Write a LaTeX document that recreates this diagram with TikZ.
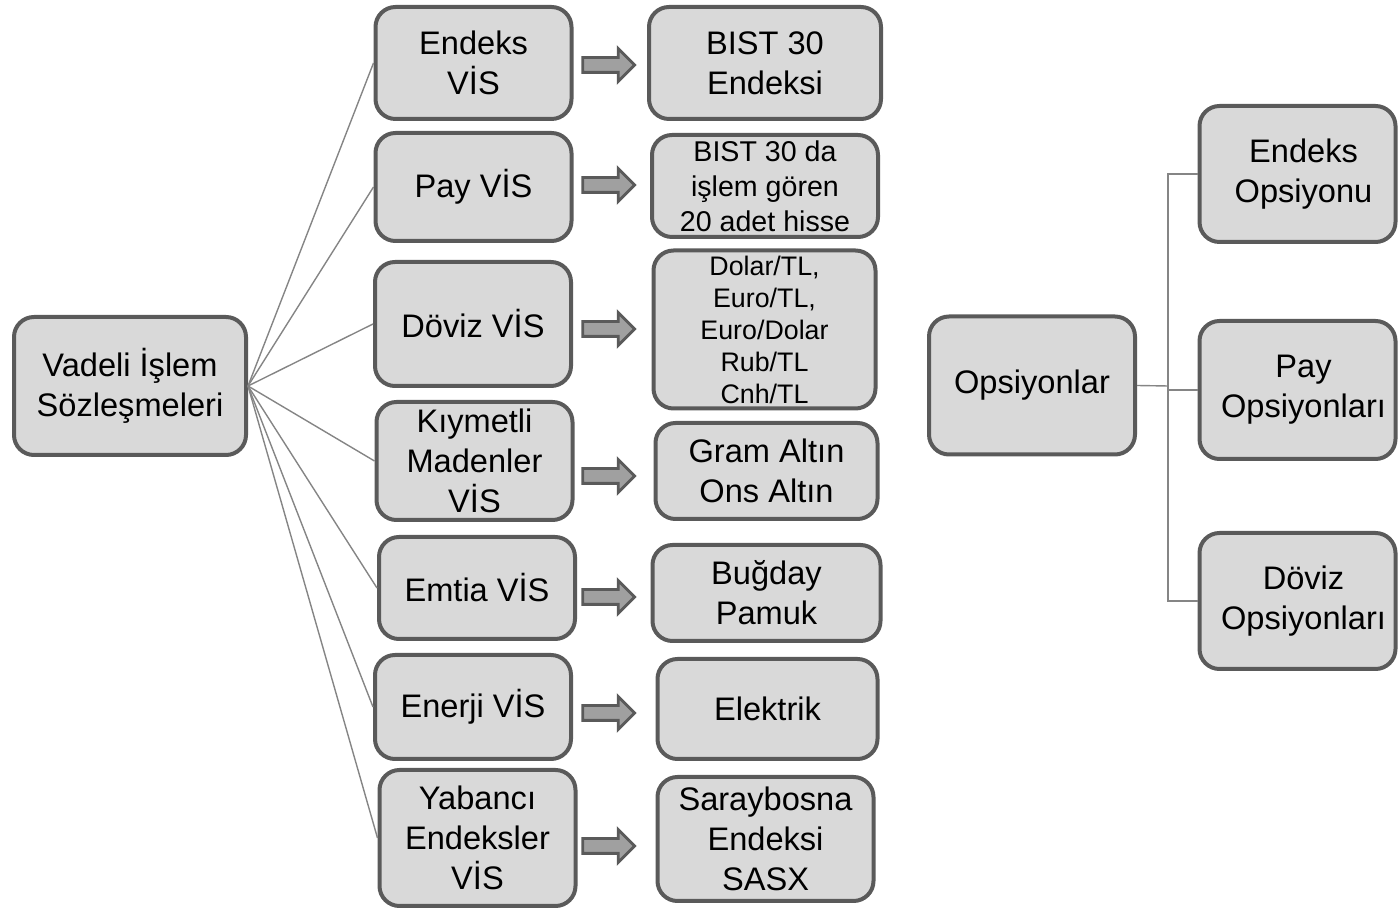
\documentclass[tikz,border=0pt]{standalone}
\usepackage{fontspec}
\setmainfont{Liberation Sans}
\usetikzlibrary{shapes.arrows}
\definecolor{boxfill}{HTML}{D9D9D9}
\definecolor{boxline}{HTML}{5A5A5A}
\definecolor{linkgray}{HTML}{858585}
\definecolor{arrowfill}{HTML}{A0A0A0}
\newcommand{\bigtext}{\fontsize{16.3}{20}\selectfont}
\newcommand{\midtext}{\fontsize{14.3}{17.5}\selectfont}
\newcommand{\smalltext}{\fontsize{13.4}{16}\selectfont}
\tikzset{
    box/.style={rectangle,rounded corners=10pt,draw=boxline,fill=boxfill,line width=2pt,
        align=center,inner sep=0pt,font=\bigtext},
    link/.style={draw=linkgray,line width=0.7pt},
    blockarrow/.style={single arrow,draw=boxline,fill=arrowfill,line width=1.4pt,
        inner sep=0pt,inner ysep=3pt,minimum height=26pt,
        single arrow head extend=4.5pt,single arrow tip angle=90}
}

\begin{document}
\begin{tikzpicture}[x=0.5pt,y=-0.5pt]
    \useasboundingbox (0,0) rectangle (1398,913);

    % Vadeli islem
    \node[box,minimum width=116pt,minimum height=69pt] (V) at (130,386) {Vadeli İşlem\\Sözleşmeleri};

    \node[box,minimum width=98pt,minimum height=56pt] (m1) at (473.5,63) {Endeks\\VİS};
    \node[box,minimum width=98pt,minimum height=54pt] (m2) at (473.5,187) {Pay VİS};
    \node[box,minimum width=98pt,minimum height=62pt] (m3) at (473,324) {Döviz VİS};
    \node[box,minimum width=98pt,minimum height=59pt] (m4) at (474.5,461) {Kıymetli\\Madenler\\VİS};
    \node[box,minimum width=98pt,minimum height=51pt] (m5) at (477,588) {Emtia VİS};
    \node[box,minimum width=98pt,minimum height=52pt] (m6) at (473,707) {Enerji VİS};
    \node[box,minimum width=98pt,minimum height=68pt] (m7) at (477.5,838) {Yabancı\\Endeksler\\VİS};

    \node[box,minimum width=116pt,minimum height=56pt] (r1) at (765,63) {BIST 30\\Endeksi};
    \node[box,minimum width=113pt,minimum height=51pt,font=\midtext] (r2) at (765,186) {BIST 30 da\\işlem gören\\20 adet hisse};
    \node[box,minimum width=111pt,minimum height=79pt,font=\smalltext] (r3) at (764.5,329.5) {Dolar/TL,\\Euro/TL,\\Euro/Dolar\\Rub/TL\\Cnh/TL};
    \node[box,minimum width=111pt,minimum height=48pt] (r4) at (766.5,471) {Gram Altın\\Ons Altın};
    \node[box,minimum width=114pt,minimum height=48pt] (r5) at (766.5,593) {Buğday\\Pamuk};
    \node[box,minimum width=110pt,minimum height=50pt] (r6) at (767.5,709) {Elektrik};
    \node[box,minimum width=108pt,minimum height=62pt] (r7) at (765.5,839) {Saraybosna\\Endeksi\\SASX};

    \foreach \i in {1,...,7}
        \draw[link] (V.east) -- (m\i.west);

    % Block arrows
    \foreach \i/\y in {1/65,2/185,3/329,4/476,5/597,6/713,7/846}
        \node[blockarrow] (a\i) at (605,\y) {};

    % Opsiyonlar
    \node[box,minimum width=103pt,minimum height=69pt] (O) at (1032,385.5) {Opsiyonlar};
    \node[box,minimum width=98pt,minimum height=68pt] (o1) at (1297.5,174) {\hspace*{6pt}Endeks\\\hspace*{6pt}Opsiyonu};
    \node[box,minimum width=98pt,minimum height=69pt] (o2) at (1297.5,390) {\hspace*{6pt}Pay\\\hspace*{6pt}Opsiyonları};
    \node[box,minimum width=98pt,minimum height=68pt] (o3) at (1297.5,601) {\hspace*{6pt}Döviz\\\hspace*{6pt}Opsiyonları};

    \coordinate (fork) at (1168,386);
    \draw[link] (O.east) -- (fork);
    \draw[link] (fork) |- (o1.west);
    \draw[link] (fork) |- (o2.west);
    \draw[link] (fork) |- (o3.west);
\end{tikzpicture}
\end{document}
